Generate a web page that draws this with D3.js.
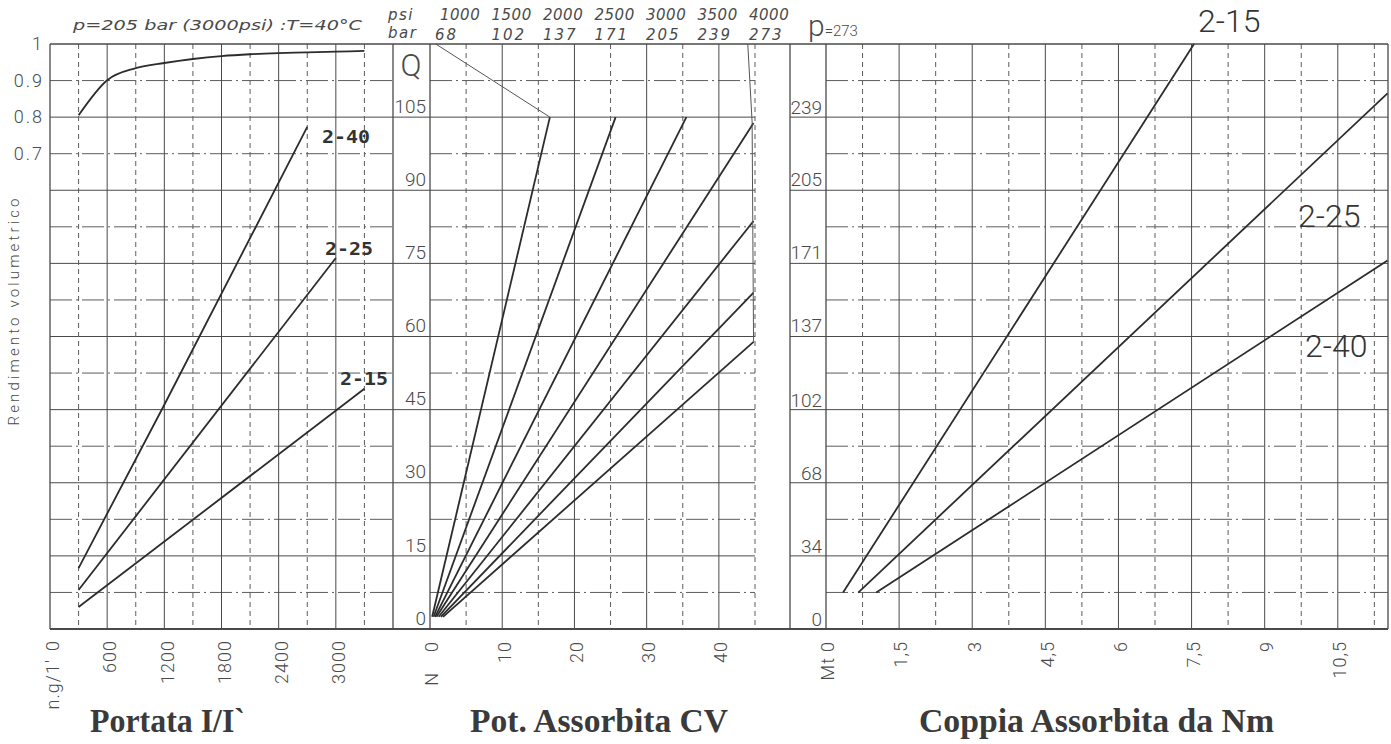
<!DOCTYPE html>
<html><head><meta charset="utf-8">
<script src="https://cdnjs.cloudflare.com/ajax/libs/d3/7.8.5/d3.min.js"></script>
<style>
html,body{margin:0;padding:0;background:#fff;}
svg{display:block;}
</style></head><body>
<svg id="c" width="1391" height="744"></svg>
<script>
// ---------- DATA ----------
// Left panel: volumetric efficiency and flow vs speed
const rpmTicks = [0, 600, 1200, 1800, 2400, 3000];
const effTicks = [1, 0.9, 0.8, 0.7];
const effTickLabels = ["1", "0.9", "0.8", "0.7"];
const effRpm = [300, 600, 900, 1200, 1500, 1800, 2100, 2400, 2700, 3000, 3300];
const effVal = [0.805, 0.901, 0.934, 0.948, 0.959, 0.967, 0.972, 0.975, 0.977, 0.979, 0.981];
const pumpModels = ["2-15", "2-25", "2-40"];
const flowRpm15 = [300, 3300];
const flowQ15 = [4.5, 49.3];
const flowRpm25 = [300, 3000];
const flowQ25 = [8.0, 76.1];
const flowRpm40 = [300, 1200, 2700];
const flowQ40 = [12.5, 46.0, 103.0];

// Middle panel: absorbed power vs flow for pressures
const qTicks = [0, 15, 30, 45, 60, 75, 90, 105];
const nTicks = [0, 10, 20, 30, 40];
const pressurePsi = [1000, 1500, 2000, 2500, 3000, 3500, 4000];
const pressureBar = [68, 102, 137, 171, 205, 239, 273];
const powerStartN = [0.3, 0.5, 0.7, 0.9, 1.2, 1.5, 1.8];
const powerStartQ = [2.5, 2.5, 2.5, 2.5, 2.5, 2.5, 2.5];
const powerEndN = [16.6, 25.7, 35.5, 44.8, 44.8, 44.8, 44.8];
const powerEndQ = [105, 105, 105, 103.8, 83.7, 69.0, 58.9];
const connector68N = [0.8, 16.6];
const connector68Q = [120, 105];
const connector273N = [44.0, 44.6, 44.8];
const connector273Q = [120, 104, 58.9];

// Right panel: absorbed torque vs pressure
const pTicks = [0, 34, 68, 102, 137, 171, 205, 239];
const mtTicks = [0, 1.5, 3, 4.5, 6, 7.5, 9, 10.5];
const mtTickLabels = ["0", "1,5", "3", "4,5", "6", "7,5", "9", "10,5"];
const torqueStartMt = [0.35, 0.66, 1.03];
const torqueStartP = [17, 17, 17];
const torqueEndMt = [7.55, 11.52, 11.52];
const torqueEndP = [273, 250, 172];

// ---------- LAYOUT ----------
const TOP = 44, BOT = 629;
const svg = d3.select("#c");
const xRpm = d3.scaleLinear().domain([0, 3600]).range([50, 393]);
const xN = d3.scaleLinear().domain([0, 45]).range([430, 755]);
const xMt = d3.scaleLinear().domain([0, 11.53]).range([826, 1388]);
const yQ = d3.scaleLinear().domain([0, 120]).range([BOT, TOP]);
const yP = d3.scaleLinear().domain([0, 273]).range([BOT, TOP]);
const yEff = d3.scaleLinear().domain([0.7, 1]).range([yQ(97.5), TOP]);

const SOLID = "#4a4a4a", DASH = "#5c5c5c", INK = "#2c2c2c", TXT = "#4a4a4a";
const SANS = "Roboto, 'DejaVu Sans Condensed', sans-serif";
const g = svg.append("g");

function line(x1, y1, x2, y2, kind) {
  const l = g.append("line").attr("x1", x1).attr("y1", y1).attr("x2", x2).attr("y2", y2)
    .attr("stroke-width", 1);
  if (kind === "dash") l.attr("stroke", DASH).attr("stroke-dasharray", "5,4");
  else if (kind === "dashdot") l.attr("stroke", DASH).attr("stroke-dasharray", "22,4,2,4");
  else l.attr("stroke", SOLID);
  return l;
}

// horizontal grid
d3.range(15, 120, 15).forEach(q => {
  line(50, yQ(q), 755, yQ(q), "solid");
  line(790, yQ(q), 1388, yQ(q), "solid");
});
d3.range(7.5, 120, 15).forEach(q => {
  line(50, yQ(q), 393, yQ(q), "dashdot");
  line(430, yQ(q), 755, yQ(q), "dashdot");
  line(826, yQ(q), 1388, yQ(q), "dashdot");
});
// vertical grid: left panel
d3.range(300, 3600, 300).forEach(r => line(xRpm(r), TOP, xRpm(r), BOT, r % 600 === 0 ? "solid" : "dash"));
// middle panel
d3.range(5, 50, 5).forEach(n => line(xN(n), TOP, xN(n), BOT, n % 10 === 0 ? "solid" : "dash"));
// right panel
d3.range(1, 16).forEach(i => line(xMt(i * 0.75), TOP, xMt(i * 0.75), BOT, i % 2 === 0 ? "solid" : "dash"));
// borders
[50, 393, 430, 790, 826, 1388].forEach(x => line(x, TOP, x, BOT, "solid").attr("stroke-width", 1.3));
line(50, TOP, 1388, TOP, "solid").attr("stroke-width", 1.5);
line(50, BOT, 1388, BOT, "solid").attr("stroke-width", 2.2);

// ---------- DATA MARKS ----------
const dl = g.append("g").attr("fill", "none").attr("stroke", INK).attr("stroke-width", 1.8);
// efficiency curve
dl.append("path").attr("d", d3.line().x((d, i) => xRpm(effRpm[i])).y(d => yEff(d)).curve(d3.curveMonotoneX)(effVal));
// flow lines
const flowSets = [[flowRpm15, flowQ15], [flowRpm25, flowQ25], [flowRpm40, flowQ40]];
flowSets.forEach(([r, q]) => {
  dl.append("path").attr("d", d3.line().x((d, i) => xRpm(r[i])).y(d => yQ(d))(q));
});
// power lines
pressureBar.forEach((p, i) => {
  dl.append("line").attr("x1", xN(powerStartN[i])).attr("y1", yQ(powerStartQ[i]))
    .attr("x2", xN(powerEndN[i])).attr("y2", yQ(powerEndQ[i]));
});
// connectors (thin)
const thin = g.append("g").attr("fill", "none").attr("stroke", "#555").attr("stroke-width", 1);
thin.append("path").attr("d", d3.line().x((d, i) => xN(connector68N[i])).y(d => yQ(d))(connector68Q));
thin.append("path").attr("d", d3.line().x((d, i) => xN(connector273N[i])).y(d => yQ(d))(connector273Q));
// torque lines
pumpModels.forEach((m, i) => {
  dl.append("line").attr("x1", xMt(torqueStartMt[i])).attr("y1", yP(torqueStartP[i]))
    .attr("x2", xMt(torqueEndMt[i])).attr("y2", yP(torqueEndP[i]));
});

// ---------- TEXT ----------
const t = svg.append("g").attr("fill", TXT);
// left panel efficiency ticks
effTicks.forEach((v, i) => {
  t.append("text").attr("x", 44).attr("y", yEff(v)).attr("dy", "0.35em")
    .attr("text-anchor", "end").attr("font-family", SANS).attr("font-weight", 300)
    .attr("font-size", 18).attr("letter-spacing", 2).text(effTickLabels[i]);
});
t.append("text").attr("transform", "translate(19,312) rotate(-90)").attr("text-anchor", "middle")
  .attr("font-family", SANS).attr("font-weight", 300).attr("font-size", 15)
  .attr("textLength", 227).attr("lengthAdjust", "spacing").text("Rendimento volumetrico");
// top-left header
t.append("text").attr("x", 73).attr("y", 30).attr("font-family", "'DejaVu Sans', sans-serif")
  .attr("font-style", "italic").attr("font-size", 14).attr("textLength", 289)
  .attr("lengthAdjust", "spacingAndGlyphs").text("p=205 bar (3000psi) :T=40°C");
// model labels in left panel
pumpModels.forEach((m, i) => {
  const xs = [340, 325, 322], ys = [385, 255, 143];
  t.append("text").attr("x", xs[i]).attr("y", ys[i]).attr("font-family", "'DejaVu Sans Mono', monospace")
    .attr("font-weight", "bold").attr("font-size", 17).attr("fill", "#333")
    .attr("textLength", 48).attr("lengthAdjust", "spacingAndGlyphs").text(m);
});
// Q axis labels
qTicks.forEach(v => {
  t.append("text").attr("x", 426).attr("y", yQ(v) - 11).attr("dy", "0.35em").attr("text-anchor", "end")
    .attr("font-family", SANS).attr("font-weight", 300).attr("font-size", 19).text(v);
});
t.append("text").attr("x", 411).attr("y", 76).attr("text-anchor", "middle")
  .attr("font-family", SANS).attr("font-weight", 300).attr("font-size", 31).text("Q");
// pressure header
const xp = d3.scalePoint().domain(pressureBar).range([440, 749]);
t.append("text").attr("x", 388).attr("y", 20).attr("font-family", "'DejaVu Sans', sans-serif")
  .attr("font-style", "italic").attr("font-size", 15).attr("letter-spacing", 1.5).text("psi");
t.append("text").attr("x", 388).attr("y", 38).attr("font-family", "'DejaVu Sans', sans-serif")
  .attr("font-style", "italic").attr("font-size", 15).attr("letter-spacing", 1.5).text("bar");
pressureBar.forEach((p, i) => {
  t.append("text").attr("x", xp(p)).attr("y", 20).attr("font-family", "'DejaVu Sans', sans-serif")
    .attr("font-style", "italic").attr("font-size", 15).attr("letter-spacing", 0.5).text(pressurePsi[i]);
  t.append("text").attr("x", xp(p) - (i === 0 ? 5 : 0)).attr("y", 40).attr("font-family", "'DejaVu Sans', sans-serif")
    .attr("font-style", "italic").attr("font-size", 15).attr("letter-spacing", 2).text(p);
});
// p=273
const pl = t.append("text").attr("x", 808).attr("y", 36).attr("font-family", SANS).attr("font-weight", 300);
pl.append("tspan").attr("font-size", 30).text("p");
pl.append("tspan").attr("font-size", 15).text("=273");
// p axis labels
pTicks.forEach(v => {
  t.append("text").attr("x", 822).attr("y", yP(v) - 10).attr("dy", "0.35em").attr("text-anchor", "end")
    .attr("font-family", SANS).attr("font-weight", 300).attr("font-size", 19).text(v);
});
// right panel model labels
const rx = [1198, 1298, 1305], ry = [32, 227, 357];
pumpModels.forEach((m, i) => {
  t.append("text").attr("x", rx[i]).attr("y", ry[i]).attr("font-family", SANS).attr("font-weight", 300)
    .attr("font-size", 32).attr("fill", "#333").text(m);
});
// rotated bottom tick labels
function rot(x, yTop, s, size) {
  t.append("text").attr("transform", `translate(${x},${yTop}) rotate(-90)`).attr("text-anchor", "end")
    .attr("dy", "0.35em").attr("font-family", SANS).attr("font-weight", 300)
    .attr("font-size", size || 18).attr("letter-spacing", 1).text(s);
}
rpmTicks.forEach(v => rot(xRpm(v) + 3, 640, String(v)));
rot(xRpm(0) + 3, 659, "n.g/1'");
nTicks.forEach(v => rot(xN(v) + 2, 641, String(v)));
rot(xN(0) + 2, 672, "N");
mtTicks.forEach((v, i) => rot(xMt(v) + 2, 641, mtTickLabels[i]));
rot(xMt(0) + 2, 657, "Mt");
// titles
const SERIF = "'Liberation Serif', 'DejaVu Serif', serif";
[["Portata I/I`", 90, 155], ["Pot. Assorbita CV", 470, 258], ["Coppia Assorbita da Nm", 919, 355]].forEach(([s, x, w]) => {
  t.append("text").attr("x", x).attr("y", 732).attr("font-family", SERIF).attr("font-weight", "bold")
    .attr("font-size", 33).attr("fill", "#3a3a3a").attr("textLength", w)
    .attr("lengthAdjust", "spacingAndGlyphs").text(s);
});
</script>
</body></html>
